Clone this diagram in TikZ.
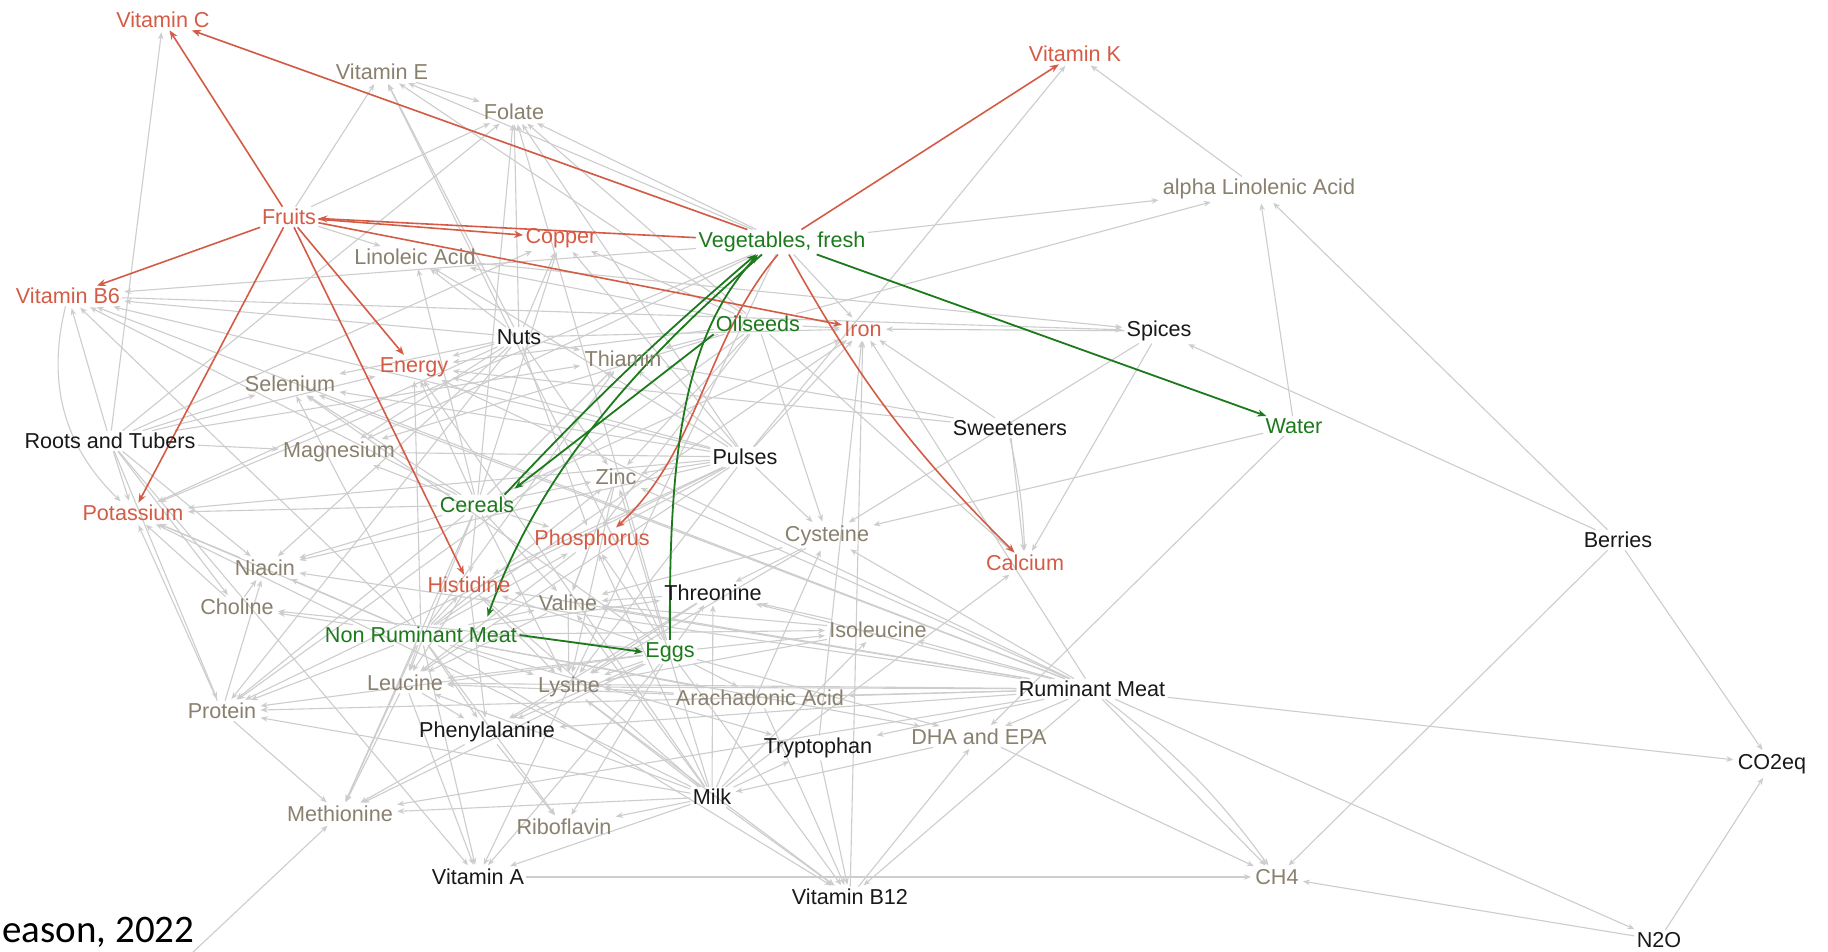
\documentclass[tikz,border=0pt]{standalone}
\usepackage{fontspec}
\setmainfont{Liberation Sans}
\newfontfamily\carl{Carlito}
\usetikzlibrary{arrows.meta}
\definecolor{nred}{RGB}{212,92,70}
\definecolor{ngreen}{RGB}{28,122,28}
\definecolor{ntan}{RGB}{138,128,110}
\definecolor{nblk}{RGB}{25,25,25}
\definecolor{egray}{RGB}{205,205,205}
\pgfdeclarelayer{edges}
\pgfsetlayers{edges,main}
\begin{document}
\begin{tikzpicture}[x=0.5pt,y=-0.5pt,
 lab/.style={font=\fontsize{10.8}{13}\selectfont, inner sep=1pt},
 nr/.style={lab,text=nred}, ng/.style={lab,text=ngreen},
 nt/.style={lab,text=ntan}, nk/.style={lab,text=nblk},
 ge/.style={draw=egray, line width=0.55pt, -{Stealth[length=3.5pt,width=2.8pt]}, shorten >=1pt},
 re/.style={draw=nred, line width=0.8pt, -{Stealth[length=4.5pt,width=3.5pt]}},
 gre/.style={draw=ngreen, line width=0.9pt, -{Stealth[length=4.5pt,width=3.5pt]}}]
\path[use as bounding box] (0,0) rectangle (1828,952);
% nodes
\node[nr] (vc) at (163,20) {Vitamin C};
\node[nt] (ve) at (382,72) {Vitamin E};
\node[nt] (fol) at (514,112) {Folate};
\node[nr] (vk) at (1075,54) {Vitamin K};
\node[nt] (ala) at (1259,189) {alpha Linolenic Acid};
\node[nr] (fru) at (289,217) {Fruits};
\node[nr] (cop) at (561,238) {Copper};
\node[ng] (veg) at (782,242) {Vegetables, fresh};
\node[nt] (la) at (415,257) {Linoleic Acid};
\node[nr] (b6) at (68,296) {Vitamin B6};
\node[nk] (nut) at (519,337) {Nuts};
\node[ng] (oil) at (758,324) {Oilseeds};
\node[nr] (iron) at (863,329) {Iron};
\node[nk] (spi) at (1159,331) {Spices};
\node[nt] (thi) at (623,359) {Thiamin};
\node[nr] (ene) at (414,367) {Energy};
\node[nt] (sel) at (290,384) {Selenium};
\node[nk] (swe) at (1010,428) {Sweeteners};
\node[ng] (wat) at (1294,426) {Water};
\node[nk] (rt) at (110,441) {Roots and Tubers};
\node[nt] (mag) at (339,452) {Magnesium};
\node[nk] (pul) at (745,457) {Pulses};
\node[nt] (zin) at (616,477) {Zinc};
\node[ng] (cer) at (477,505) {Cereals};
\node[nr] (pot) at (133,513) {Potassium};
\node[nr] (pho) at (592,540) {Phosphorus};
\node[nt] (cys) at (827,536) {Cysteine};
\node[nk] (ber) at (1618,540) {Berries};
\node[nr] (cal) at (1025,563) {Calcium};
\node[nt] (nia) at (265,568) {Niacin};
\node[nr] (his) at (469,585) {Histidine};
\node[nk] (thr) at (713,593) {Threonine};
\node[nt] (val) at (568,603) {Valine};
\node[nt] (cho) at (237,607) {Choline};
\node[nt] (iso) at (878,630) {Isoleucine};
\node[ng] (nrm) at (421,635) {Non Ruminant Meat};
\node[ng] (egg) at (670,652) {Eggs};
\node[nt] (leu) at (405,683) {Leucine};
\node[nt] (lys) at (569,687) {Lysine};
\node[nk] (rm) at (1092,689) {Ruminant Meat};
\node[nt] (ara) at (760,698) {Arachadonic Acid};
\node[nt] (pro) at (222,711) {Protein};
\node[nk] (phe) at (487,732) {Phenylalanine};
\node[nt] (dha) at (979,737) {DHA and EPA};
\node[nk] (try) at (818,748) {Tryptophan};
\node[nk] (co2) at (1772,764) {CO2eq};
\node[nk] (milk) at (712,797) {Milk};
\node[nt] (met) at (340,814) {Methionine};
\node[nt] (rib) at (564,827) {Riboflavin};
\node[nk] (va) at (478,877) {Vitamin A};
\node[nt] (ch4) at (1277,877) {CH4};
\node[nk] (b12) at (850,897) {Vitamin B12};
\node[nk] (n2o) at (1659,940) {N2O};
\node[anchor=base west, inner sep=0pt, font=\carl\fontsize{19.5}{22}\selectfont, text=black] (src) at (2,942) {eason, 2022};
\coordinate (offm) at (190,955);
\begin{pgfonlayer}{edges}
\fill[white] (0,0) rectangle (1828,952);
% gray edges
\foreach \a/\b in {rt/vc,rt/b6,rt/pot,rt/ene,rt/sel,rt/mag,rt/nia,rt/pro,rt/thi,rt/cop,rt/fol,rt/cho,rt/va,
 nut/ene,nut/thi,nut/sel,nut/mag,nut/la,nut/ve,nut/fol,nut/cop,nut/zin,nut/pho,nut/pot,nut/nia,nut/pro,nut/iron,nut/b6,
 pul/fol,pul/cop,pul/iron,pul/zin,pul/mag,pul/pho,pul/pot,pul/thi,pul/pro,pul/lys,pul/ene,pul/sel,pul/vk,pul/cys,pul/nia,pul/b6,pul/la,pul/his,pul/leu,
 milk/rib,milk/b12,milk/cal,milk/pro,milk/pho,milk/va,milk/met,milk/leu,milk/lys,milk/val,milk/iso,milk/ene,milk/thr,milk/pot,milk/zin,milk/his,milk/try,milk/cys,
 rm/co2,rm/ch4,rm/n2o,rm/b12,rm/iron,rm/zin,rm/pro,rm/ara,rm/dha,rm/nia,rm/leu,rm/lys,rm/met,rm/cys,rm/val,rm/his,rm/sel,rm/b6,rm/ene,rm/iso,rm/thr,rm/phe,rm/try,
 egg/va,egg/b12,egg/rib,egg/sel,egg/pro,egg/cho,egg/met,egg/leu,egg/lys,egg/ara,egg/dha,egg/ve,egg/fol,egg/pho,egg/iso,egg/thr,egg/phe,egg/his,
 nrm/pro,nrm/nia,nrm/b6,nrm/b12,nrm/sel,nrm/zin,nrm/leu,nrm/lys,nrm/met,nrm/val,nrm/his,nrm/ara,nrm/dha,nrm/iron,nrm/pho,nrm/pot,nrm/ene,nrm/cho,nrm/thi,nrm/iso,nrm/try,nrm/thr,nrm/phe,nrm/rib,nrm/va,
 cer/ene,cer/thi,cer/nia,cer/mag,cer/pho,cer/zin,cer/iron,cer/sel,cer/pro,cer/la,cer/fol,cer/b6,cer/pot,cer/cop,cer/lys,cer/leu,cer/val,cer/met,cer/his,
 oil/la,oil/ve,oil/ala,oil/ene,oil/mag,oil/zin,oil/pro,oil/cal,oil/iron,oil/fol,oil/cop,oil/thi,oil/cys,oil/pho,
 veg/vc,veg/fol,veg/pot,veg/ala,veg/mag,veg/ve,veg/va,veg/b6,veg/iron,
 fru/fol,fru/ve,fru/la,
 spi/iron,spi/cal,spi/cys,la/spi,b6/spi,
 swe/iron,swe/cal,swe/ene,swe/thi,
 ber/ala,ber/spi,ber/ch4,ber/co2,
 wat/ala,wat/dha,wat/cys,
 n2o/co2,n2o/ch4,dha/ch4,va/ch4,dha/milk,b12/dha,b12/iron,try/iron,ala/vk,ve/fol,
 pro/met,leu/met,phe/met,nia/pot,cho/pot,pro/pot,lys/b12,try/b12,ara/b12,phe/rib,leu/va,pro/nia,cho/nia,
 val/lys,his/lys,leu/phe,lys/phe,thr/val,thr/lys,iso/lys,ara/lys,zin/val,pho/val,his/leu,cys/thr,iso/thr,cys/val,
 his/phe,val/leu,thr/phe,iso/val,ara/leu,pho/leu,zin/lys,cys/lys}
 \draw[ge] (\a) -- (\b);
\draw[ge] (rm) to[bend left=8] (ch4);
\draw[ge] (b6) to[bend right=30] (pot);
\draw[ge] (swe.south) to[bend left=5] (cal);
\draw[ge] (offm) -- (met);
% red edges
\draw[re] (fru) -- (vc);
\draw[re] (veg) -- (vc);
\draw[re] (fru) -- (b6);
\draw[re] (veg) -- (fru);
\draw[re] (fru) -- (cop);
\draw[re] (fru) -- (iron);
\draw[re] (fru) -- (ene);
\draw[re] (fru) -- (pot);
\draw[re] (fru) -- (his);
\draw[re] (veg) -- (vk);
\draw[re] (veg) to[bend right=8] (cal);
\draw[re] ([xshift=-2pt]veg.south) .. controls (705,340) and (700,450) .. ([xshift=12pt]pho.north);
% green edges
\draw[gre] (veg) -- (wat);
\draw[gre] (oil.south west) -- ([xshift=-1pt,yshift=3pt]cer.north east);
\draw[gre] ([xshift=-6pt]cer.north east) to[bend left=3] ([xshift=-13pt]veg.south);
\draw[gre] (egg.north) .. controls (668,430) and (690,330) .. ([xshift=-12pt]veg.south);
\draw[gre] ([xshift=-10pt]veg.south) .. controls (640,360) and (540,470) .. ([xshift=-16pt,yshift=4pt]nrm.north east);
\draw[gre] (nrm.east) -- (egg.west);
\end{pgfonlayer}
\end{tikzpicture}
\end{document}
